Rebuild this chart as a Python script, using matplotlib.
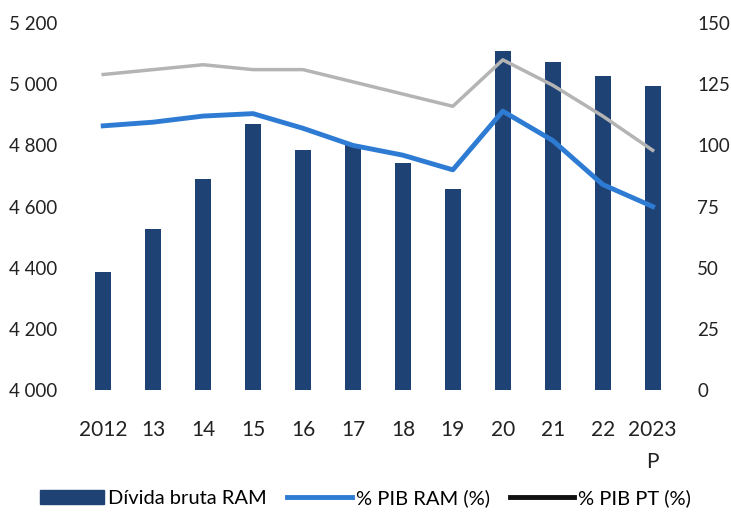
import matplotlib.pyplot as plt
from matplotlib.lines import Line2D
from matplotlib.patches import Patch

plt.rcParams['font.family'] = ['Lato', 'DejaVu Sans']

# dados
anos = ['2012', '13', '14', '15', '16', '17', '18', '19', '20', '21', '22', '2023\nP']
divida = [4385, 4525, 4690, 4870, 4785, 4800, 4742, 4657, 5108, 5072, 5027, 4994]
pib_ram = [108, 109.5, 112, 113, 107, 100, 96, 90, 114, 102, 84, 75]
pib_pt = [129, 131, 133, 131, 131, 126, 121, 116, 135, 124.6, 112, 98]

cor_barra = '#1f4274'
cor_ram = '#2e7bd4'
cor_pt = '#b4b4b4'

fig = plt.figure(figsize=(7.31, 5.15), dpi=100)
ax = fig.add_axes([0.107, 0.243, 0.82, 0.712])
x = range(len(anos))
ax.bar(x, [d - 4000 for d in divida], bottom=4000, width=0.32, color=cor_barra)
ax.set_ylim(4000, 5200)
ax.set_yticks([4000, 4200, 4400, 4600, 4800, 5000, 5200])
ax.set_yticklabels(['4 000', '4 200', '4 400', '4 600', '4 800', '5 000', '5 200'])
ax.set_xlim(-0.5, 11.5)
ax.set_xticks(list(x))
ax.set_xticklabels(anos, va='top', linespacing=1.7)

ax2 = ax.twinx()
ax2.plot(x, pib_pt, color=cor_pt, lw=2.5)
ax2.plot(x, pib_ram, color=cor_ram, lw=3.5)
ax2.set_ylim(0, 150)
ax2.set_yticks([0, 25, 50, 75, 100, 125, 150])

for a in (ax, ax2):
    for s in a.spines.values():
        s.set_visible(False)
    a.tick_params(length=0, labelsize=13.5, colors='#222222')
ax.tick_params(axis='x', pad=22, labelsize=15)
ax.tick_params(axis='y', pad=15)
ax2.tick_params(axis='y', pad=14)

handles = [Patch(color=cor_barra), Line2D([], [], color=cor_ram, lw=3.5),
           Line2D([], [], color='#111111', lw=3.5)]
fig.legend(handles, ['Dívida bruta RAM', '% PIB RAM (%)', '% PIB PT (%)'],
           loc='center', bbox_to_anchor=(0.5, 0.032), ncol=3, frameon=False,
           fontsize=14.5, handlelength=3.2, handletextpad=0.2, columnspacing=1.0)

fig.savefig('out.png', dpi=100)
